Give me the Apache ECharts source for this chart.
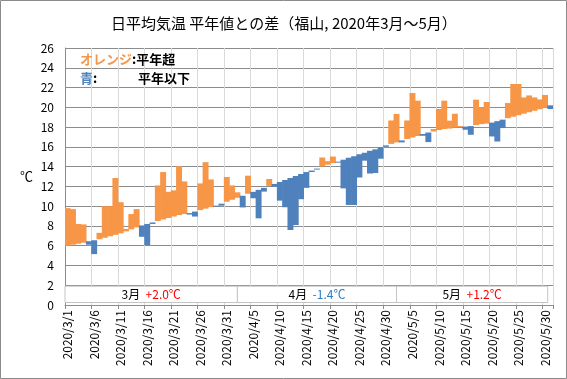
<!DOCTYPE html>
<html><head><meta charset="utf-8">
<script src="https://cdn.jsdelivr.net/npm/echarts@6/dist/echarts.min.js"></script>
<style>html,body{margin:0;padding:0;background:#fff}#c{width:567px;height:379px}</style>
</head><body><div id="c"></div>
<script>
// ---- data ----
const monthNames = ['3月', '4月', '5月'];
const monthNums = [3, 4, 5];
const monthDays = [31, 30, 31];
const monthDiffs = ['+2.0℃', '-1.4℃', '+1.2℃'];
const yTicks = [0, 26, 2]; // min, max, step

// 平年値 (normal daily mean, Mar 1 .. May 31)
const normal = [
  6.0, 6.1, 6.2, 6.3, 6.45, 6.55, 6.65, 6.8, 6.95, 7.1, 7.25,
  7.45, 7.65, 7.85, 8.05, 8.2, 8.35, 8.5, 8.65, 8.8, 8.95,
  9.1, 9.2, 9.3, 9.45, 9.6, 9.75, 9.9, 10.05, 10.25, 10.45,
  10.65, 10.85, 11.05, 11.25, 11.45, 11.65, 11.85, 12.05, 12.25, 12.45,
  12.65, 12.85, 13.05, 13.25, 13.45, 13.6, 13.8, 14.0, 14.2, 14.35,
  14.5, 14.7, 14.9, 15.05, 15.25, 15.4, 15.6, 15.75, 15.95, 16.15,
  16.3, 16.45, 16.65, 16.8, 16.95, 17.1, 17.3, 17.45, 17.55, 17.7,
  17.8, 17.85, 17.95, 18.0, 18.05, 18.1, 18.2, 18.3, 18.35, 18.45,
  18.6, 18.75, 18.9, 19.05, 19.2, 19.35, 19.5, 19.65, 19.8, 19.95, 20.2
];
// 日平均気温 2020 (actual daily mean)
const actual = [
  9.8, 9.7, 8.2, 8.15, 6.1, 5.15, 7.3, 10.0, 10.0, 12.85, 10.4,
  7.7, 9.2, 9.7, 6.9, 6.05, 8.2, 12.1, 13.45, 11.45, 11.6,
  14.05, 12.5, 9.15, 8.95, 12.3, 14.45, 12.7, 9.95, 10.05, 12.95,
  12.1, 11.4, 9.87, 13.08, 10.8, 8.77, 11.47, 12.75, 11.98, 10.56,
  9.89, 7.59, 8.09, 10.7, 11.85, 13.45, 13.7, 14.92, 14.55, 15.02,
  14.4, 11.8, 10.12, 10.12, 12.9, 14.6, 13.3, 13.35, 14.8, 16.0,
  18.67, 19.33, 16.45, 18.67, 21.45, 20.67, 17.12, 16.48, 17.8, 19.83,
  20.67, 18.65, 19.35, 18.1, 17.73, 17.22, 20.77, 19.99, 20.54, 17.05,
  16.54, 17.9, 20.43, 22.36, 22.36, 21.0, 21.2, 21.0, 20.8, 21.25, 19.83
];

// ---- build ----
const categories = [];
const monthRanges = [];
monthDays.forEach((n, m) => {
  const first = '2020/' + monthNums[m] + '/1';
  const last = '2020/' + monthNums[m] + '/' + n;
  for (let d = 1; d <= n; d++) categories.push('2020/' + monthNums[m] + '/' + d);
  monthRanges.push([first, last]);
});

const ORANGE = '#F79646', BLUE = '#4F81BD';
const FONT = '"Noto Sans CJK JP", "Noto Sans", sans-serif';

const base = normal.map((n, i) => Math.min(n, actual[i]));
const above = normal.map((n, i) => Math.max(actual[i] - n, 0));
const below = normal.map((n, i) => Math.max(n - actual[i], 0));

const markData = monthRanges.map((r, m) => {
  const pos = monthDiffs[m].charAt(0) === '+';
  return [
    { xAxis: r[0], yAxis: 0.25,
      label: { formatter: '{m|' + monthNames[m] + '}  {' + (pos ? 'p' : 'n') + '|' + monthDiffs[m] + '}' } },
    { xAxis: r[1], yAxis: 1.9 }
  ];
});

const chart = echarts.init(document.getElementById('c'), null, { renderer: 'canvas' });
chart.setOption({
  animation: false,
  backgroundColor: '#fff',
  textStyle: { fontFamily: FONT },
  title: {
    text: '日平均気温 平年値との差（福山, 2020年3月～5月）',
    left: 106, top: 11,
    textStyle: { fontSize: 15, fontWeight: 'normal', color: '#000', fontFamily: FONT }
  },
  grid: { left: 65, right: 14, top: 48, bottom: 74, containLabel: false },
  xAxis: {
    type: 'category', data: categories, boundaryGap: true,
    axisLine: { lineStyle: { color: '#8c8c8c' } },
    axisTick: { show: true, interval: 4, length: 4, lineStyle: { color: '#8c8c8c' } },
    axisLabel: { interval: 4, rotate: 90, fontSize: 12, color: '#000', margin: 5, fontFamily: FONT },
    splitLine: { show: true, interval: 4, lineStyle: { color: '#d9d9d9' } }
  },
  yAxis: {
    type: 'value', min: yTicks[0], max: yTicks[1], interval: yTicks[2],
    name: '℃', nameLocation: 'middle', nameRotate: 0, nameGap: 32,
    nameTextStyle: { fontSize: 13, color: '#000', fontFamily: FONT },
    axisLine: { show: true, lineStyle: { color: '#8c8c8c' } },
    axisTick: { show: false },
    axisLabel: { fontSize: 12, color: '#000', margin: 11, fontFamily: FONT },
    splitLine: { lineStyle: { color: '#8c8c8c' } }
  },
  series: [
    { type: 'bar', stack: 't', data: base, silent: true, barWidth: '112%',
      itemStyle: { color: 'rgba(0,0,0,0)' } },
    { type: 'bar', stack: 't', data: above, barWidth: '112%',
      itemStyle: { color: ORANGE } },
    { type: 'bar', stack: 't', data: below, barWidth: '112%',
      itemStyle: { color: BLUE },
      markArea: {
        silent: true,
        itemStyle: { color: '#fff', borderColor: '#c4c4c4', borderWidth: 1 },
        label: {
          show: true, position: 'inside',
          rich: {
            m: { fontSize: 12, color: '#000', fontFamily: FONT },
            p: { fontSize: 12, color: '#ff0000', fontFamily: FONT },
            n: { fontSize: 12, color: '#2f7fc1', fontFamily: FONT }
          }
        },
        data: markData
      }
    }
  ],
  graphic: [
    { type: 'rect', silent: true, z: 100,
      shape: { x: 0.5, y: 0.5, width: 566, height: 378 },
      style: { fill: null, stroke: '#8a8a8a', lineWidth: 1 } },
    { type: 'text', x: 80, y: 53, z: 100,
      style: { text: '{o|オレンジ}{k|:平年超}',
        rich: {
          o: { fill: ORANGE, font: 'bold 13px ' + FONT },
          k: { fill: '#000', font: 'bold 13px ' + FONT }
        } } },
    { type: 'text', x: 80, y: 72, z: 100,
      style: { text: '{b|青}{k|:}',
        rich: {
          b: { fill: BLUE, font: 'bold 13px ' + FONT },
          k: { fill: '#000', font: 'bold 13px ' + FONT }
        } } },
    { type: 'text', x: 138, y: 72, z: 100,
      style: { text: '平年以下', fill: '#000', font: 'bold 13px ' + FONT } }
  ]
});
</script>
</body></html>
